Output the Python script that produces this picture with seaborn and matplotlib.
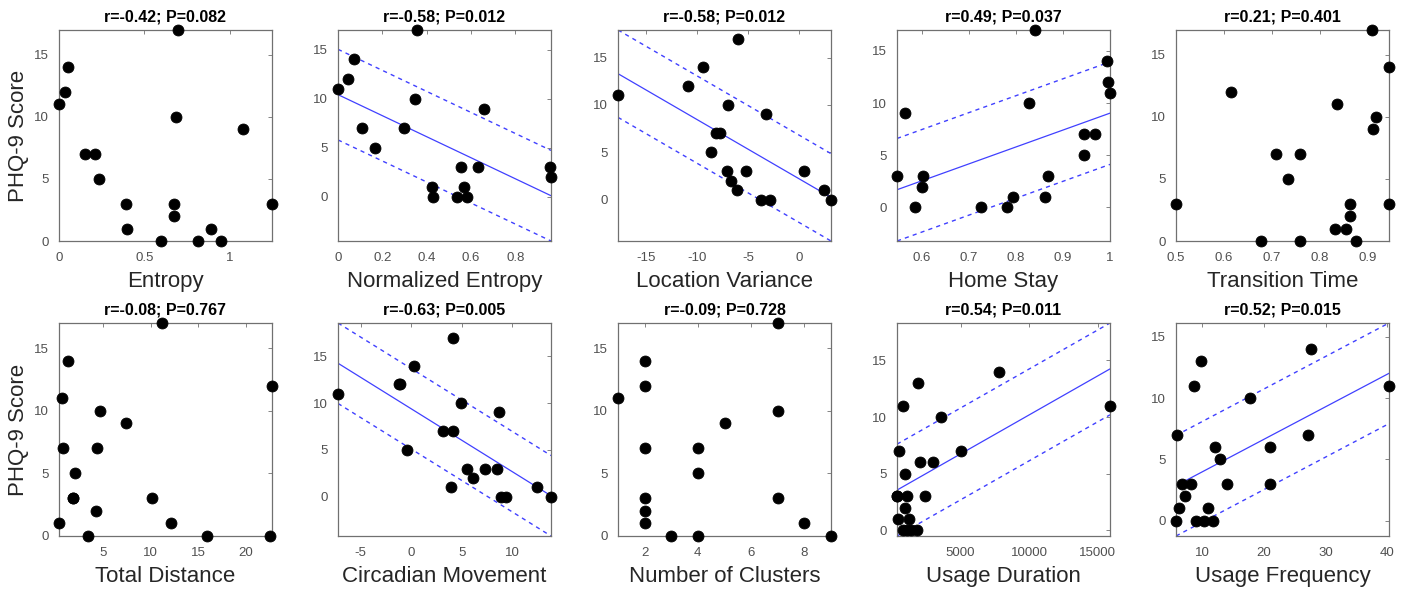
import numpy as np
import pandas as pd
import matplotlib
matplotlib.use("Agg")
import matplotlib.pyplot as plt
import seaborn as sns
from matplotlib.ticker import FuncFormatter

sns.set_style("white")
plt.rcParams['font.family'] = ['Liberation Sans', 'DejaVu Sans']
plt.rcParams['axes.unicode_minus'] = False

# ---------------- data ----------------
entropy_x = [0.0, 0.033, 0.053, 0.15, 0.213, 0.232, 0.39, 0.40, 0.60, 0.672, 0.672, 0.6875, 0.70, 0.8125, 0.889, 0.951, 1.08, 1.248]
entropy_y = [11, 12, 14, 7, 7, 5, 3, 1, 0, 3, 2, 10, 17, 0, 1, 0, 9, 3]

norm_entropy_x = [0.0, 0.044, 0.071, 0.108, 0.165, 0.30, 0.349, 0.356, 0.424, 0.429, 0.537, 0.556, 0.57, 0.582, 0.63, 0.66, 0.958, 0.961]
norm_entropy_y = [11, 12, 14, 7, 5, 7, 10, 17, 1, 0, 0, 3, 1, 0, 3, 9, 3, 2]

loc_var_x = [-17.7, -10.85, -9.45, -8.63, -8.18, -7.75, -6.94, -7.10, -6.71, -6.12, -6.03, -5.21, -3.75, -2.87, -3.22, 0.49, 2.38, 3.09]
loc_var_y = [11, 12, 14, 5, 7, 7, 10, 3, 2, 1, 17, 3, 0, 0, 9, 3, 1, 0]

home_x = [0.548, 0.564, 0.587, 0.601, 0.604, 0.726, 0.782, 0.795, 0.829, 0.841, 0.863, 0.868, 0.945, 0.945, 0.968, 0.993, 0.996, 1.0]
home_y = [3, 9, 0, 2, 3, 0, 0, 1, 10, 17, 1, 3, 5, 7, 7, 14, 12, 11]

trans_x = [0.5, 0.615, 0.678, 0.709, 0.734, 0.758, 0.758, 0.831, 0.835, 0.855, 0.862, 0.863, 0.876, 0.909, 0.910, 0.916, 0.944, 0.944]
trans_y = [3, 12, 0, 7, 5, 7, 0, 1, 11, 1, 3, 2, 0, 17, 9, 10, 14, 3]

dist_x = [0.39, 0.74, 0.81, 1.37, 1.86, 1.9, 2.1, 3.44, 4.32, 4.42, 4.74, 7.37, 10.1, 11.23, 12.14, 15.96, 22.56, 22.74]
dist_y = [1, 11, 7, 14, 3, 3, 5, 0, 2, 7, 10, 9, 3, 17, 1, 0, 0, 12]

circ_x = [-7.25, -1.25, -1.1, -0.46, 0.26, 3.11, 3.9, 4.17, 4.17, 4.9, 5.56, 6.16, 7.32, 8.54, 8.74, 8.9, 9.37, 12.5, 13.84]
circ_y = [11, 12, 12, 5, 14, 7, 1, 7, 17, 10, 3, 2, 3, 3, 9, 0, 0, 1, 0]

clusters_x = [1, 2, 2, 2, 2, 2, 2, 3, 4, 4, 4, 5, 7, 7, 7, 8, 9]
clusters_y = [11, 14, 12, 7, 3, 2, 1, 0, 0, 7, 5, 9, 17, 10, 3, 1, 0]

dur_x = [366, 400, 417, 534, 783, 951, 951, 1098, 1266, 1400, 783, 1098, 1829, 1878, 2049, 2437, 2978, 3585, 5049, 7805, 15900]
dur_y = [3, 3, 1, 7, 11, 5, 2, 3, 1, 0, 0, 0, 0, 13, 6, 3, 6, 10, 7, 14, 11]

freq_x = [5.7, 6.25, 5.87, 6.7, 7.2, 8.2, 8.7, 8.9, 9.8, 10.2, 10.87, 11.7, 11.96, 12.8, 14.0, 17.8, 20.9, 20.9, 27.1, 27.7, 40.3]
freq_y = [0, 1, 7, 3, 2, 3, 11, 0, 13, 0, 1, 0, 6, 5, 3, 10, 6, 3, 7, 14, 11]

x_labels = ["Entropy", "Normalized Entropy", "Location Variance", "Home Stay", "Transition Time",
            "Total Distance", "Circadian Movement", "Number of Clusters", "Usage Duration", "Usage Frequency"]
titles = ["r=-0.42; P=0.082", "r=-0.58; P=0.012", "r=-0.58; P=0.012", "r=0.49; P=0.037", "r=0.21; P=0.401",
          "r=-0.08; P=0.767", "r=-0.63; P=0.005", "r=-0.09; P=0.728", "r=0.54; P=0.011", "r=0.52; P=0.015"]
show_fit = [False, True, True, True, False, False, True, False, True, True]
x_ticks = [[0, 0.5, 1], [0, 0.2, 0.4, 0.6, 0.8], [-15, -10, -5, 0], [0.6, 0.7, 0.8, 0.9, 1.0],
           [0.5, 0.6, 0.7, 0.8, 0.9], [5, 10, 15, 20], [-5, 0, 5, 10], [2, 4, 6, 8],
           [5000, 10000, 15000], [10, 20, 30, 40]]
y_ticks = [0, 5, 10, 15]
y_label = "PHQ-9 Score"

xs = [entropy_x, norm_entropy_x, loc_var_x, home_x, trans_x, dist_x, circ_x, clusters_x, dur_x, freq_x]
ys = [entropy_y, norm_entropy_y, loc_var_y, home_y, trans_y, dist_y, circ_y, clusters_y, dur_y, freq_y]

# ---------------- layout ----------------
W, H = 1404, 589
fig = plt.figure(figsize=(W / 100, H / 100), dpi=100)
lefts_px = [59, 338, 618, 897, 1176]
ax_w_px = 213
rows_px = [(30, 241), (323, 536)]

spine_col = "#707070"
tick_col = "#505050"
band_k = 1.04
fmt = FuncFormatter(lambda v, p: "%g" % v)

for i in range(10):
    r, c = divmod(i, 5)
    top, bot = rows_px[r]
    ax = fig.add_axes([lefts_px[c] / W, 1 - bot / H, ax_w_px / W, (bot - top) / H])
    x = np.asarray(xs[i], float)
    y = np.asarray(ys[i], float)
    df = pd.DataFrame({"x": x, "y": y})
    sns.scatterplot(data=df, x="x", y="y", ax=ax, color="black", edgecolor="black",
                    s=62, linewidth=0.6, clip_on=False, zorder=3, legend=False)
    xmin, xmax = x.min(), x.max()
    ymin, ymax = y.min(), y.max()
    if show_fit[i]:
        b1, b0 = np.polyfit(x, y, 1)
        resid = y - (b0 + b1 * x)
        s = np.sqrt(np.sum(resid ** 2) / (len(x) - 2))
        off = band_k * s
        xx = np.array([xmin, xmax])
        fit = b0 + b1 * xx
        ax.plot(xx, fit, color="#4040ff", lw=0.9, zorder=2)
        ax.plot(xx, fit + off, color="#4040ff", lw=1.0, ls=(0, (3, 3)), zorder=2)
        ax.plot(xx, fit - off, color="#4040ff", lw=1.0, ls=(0, (3, 3)), zorder=2)
        ymin = min(ymin, (fit - off).min())
        ymax = max(ymax, (fit + off).max())
    ax.set_xlim(xmin, xmax)
    ax.set_ylim(ymin, ymax)
    ax.set_xticks(x_ticks[i])
    ax.set_yticks([t for t in y_ticks if ymin - 1e-9 <= t <= ymax + 1e-9])
    ax.xaxis.set_major_formatter(fmt)
    ax.yaxis.set_major_formatter(fmt)
    ax.tick_params(direction="in", length=3, width=0.6, colors=spine_col, labelcolor=tick_col,
                   labelsize=9.5, top=True, right=True)
    ax.tick_params(axis="x", pad=8)
    ax.tick_params(axis="y", pad=7)
    for sp in ax.spines.values():
        sp.set_color(spine_col)
        sp.set_linewidth(0.9)
        sp.set_visible(True)
    ax.set_xlabel(x_labels[i], fontsize=16, color="#262626", labelpad=5)
    if c == 0:
        ax.set_ylabel(y_label, fontsize=16, color="#262626", labelpad=4)
    else:
        ax.set_ylabel("")
    ax.set_title(titles[i], fontsize=11.5, fontweight="bold", color="black", pad=6)

fig.savefig("out.png", dpi=100)
